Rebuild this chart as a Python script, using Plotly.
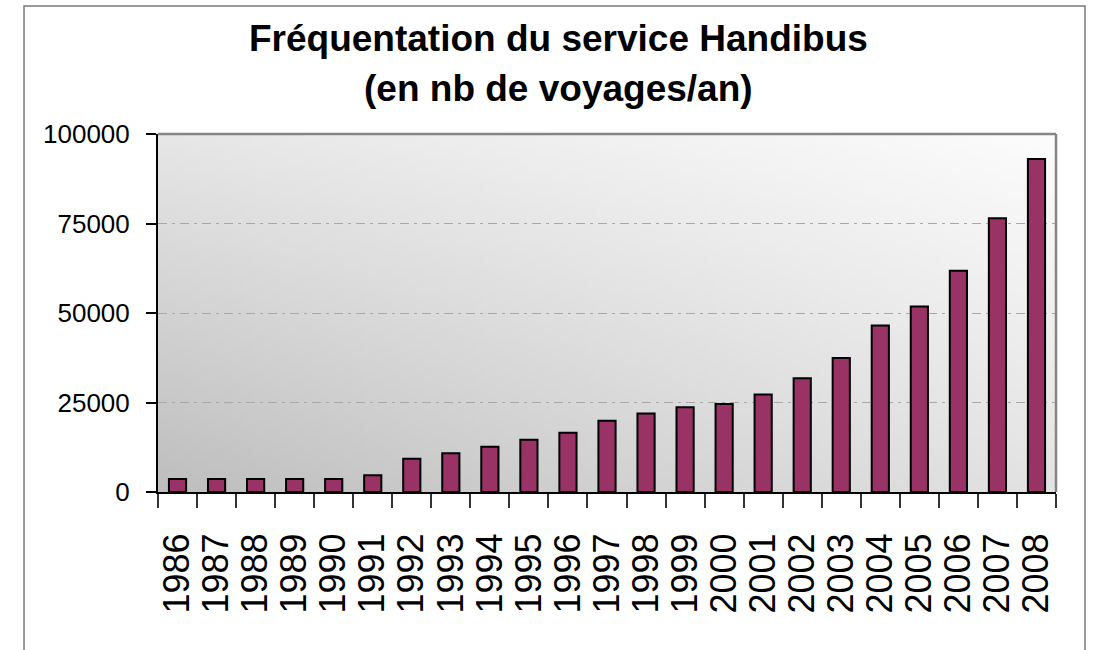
import base64, struct, zlib
import plotly.graph_objects as go

# ---- data ----
years = [str(y) for y in range(1986, 2009)]
voyages = [3600, 3600, 3600, 3600, 3600, 4650, 9300, 10800, 12650, 14600, 16550,
           19900, 21900, 23650, 24600, 27250, 31750, 37400, 46500, 51800, 61800,
           76500, 93000]
y_ticks = [0, 25000, 50000, 75000, 100000]
title_line1 = "Fréquentation du service Handibus"
title_line2 = "(en nb de voyages/an)"

# ---- style ----
FONT = "Liberation Sans, Arial, sans-serif"
BAR_COLOR = "#993366"
# corner greys of the plot-area gradient (top-left, top-right, bottom-left, bottom-right)
G_TL, G_TR, G_BL, G_BR = 230, 252, 190, 227


def gradient_png(w=120, h=60):
    raw = b""
    for j in range(h):
        v = j / (h - 1)
        row = bytearray([0])
        for i in range(w):
            u = i / (w - 1)
            top = G_TL + (G_TR - G_TL) * u
            bot = G_BL + (G_BR - G_BL) * u
            row.append(int(round(top + (bot - top) * v)))
        raw += bytes(row)

    def chunk(t, d):
        c = struct.pack(">I", len(d)) + t + d
        return c + struct.pack(">I", zlib.crc32(t + d) & 0xffffffff)

    png = b"\x89PNG\r\n\x1a\n"
    png += chunk(b"IHDR", struct.pack(">IIBBBBB", w, h, 8, 0, 0, 0, 0))
    png += chunk(b"IDAT", zlib.compress(raw, 9))
    png += chunk(b"IEND", b"")
    return "data:image/png;base64," + base64.b64encode(png).decode()


fig = go.Figure()
fig.add_trace(go.Bar(
    x=years, y=voyages,
    marker=dict(color=BAR_COLOR, line=dict(color="black", width=2)),
    width=0.44,
    hoverinfo="x+y",
))

fig.update_layout(
    width=1097, height=650,
    margin=dict(l=158, r=41, t=134, b=158),
    paper_bgcolor="white",
    plot_bgcolor="rgba(0,0,0,0)",
    showlegend=False,
    font=dict(family=FONT, color="black"),
    images=[dict(source=gradient_png(), xref="paper", yref="paper",
                 x=0, y=1, sizex=1, sizey=1, sizing="stretch",
                 xanchor="left", yanchor="top", layer="below")],
    annotations=[
        dict(text="<b>" + title_line1 + "</b>", xref="paper", yref="paper",
             x=0.4465, y=1.268, xanchor="center", yanchor="middle",
             showarrow=False, font=dict(size=37, family=FONT)),
        dict(text="<b>" + title_line2 + "</b>", xref="paper", yref="paper",
             x=0.4465, y=1.1257, xanchor="center", yanchor="middle",
             showarrow=False, font=dict(size=37, family=FONT)),
    ],
    shapes=[
        # outer chart frame
        dict(type="rect", xref="paper", yref="paper", x0=-0.1492, x1=1.0323,
             y0=-0.6, y1=1.3575, line=dict(color="#7a7a7a", width=1.5),
             fillcolor="rgba(0,0,0,0)", layer="below"),
        # top and right border of the plot area
        dict(type="line", xref="paper", yref="paper", x0=0, x1=1, y0=1, y1=1,
             line=dict(color="#858585", width=2.5)),
        dict(type="line", xref="paper", yref="paper", x0=1, x1=1, y0=0, y1=1,
             line=dict(color="#858585", width=2.5)),
    ],
)

fig.update_xaxes(
    type="category",
    tickmode="linear", dtick=1,
    tickangle=-90,
    tickfont=dict(size=36, family=FONT, color="black"),
    ticks="outside", ticklen=14, tickwidth=1.5, tickcolor="#333333",
    tickson="boundaries",
    showline=True, linecolor="black", linewidth=2,
    showgrid=False,
    ticklabelstandoff=25,
)
fig.update_yaxes(
    range=[0, 100000],
    tickvals=y_ticks,
    ticktext=[str(v) for v in y_ticks],
    tickfont=dict(size=26, family=FONT, color="black"),
    ticks="outside", ticklen=10, tickwidth=1.5, tickcolor="black",
    showline=True, linecolor="black", linewidth=2,
    showgrid=True, gridcolor="#a8a8a8", gridwidth=1, griddash="9px,5px,3px,5px",
    zeroline=False,
    ticklabelstandoff=11,
)

fig.write_html("out.html")
